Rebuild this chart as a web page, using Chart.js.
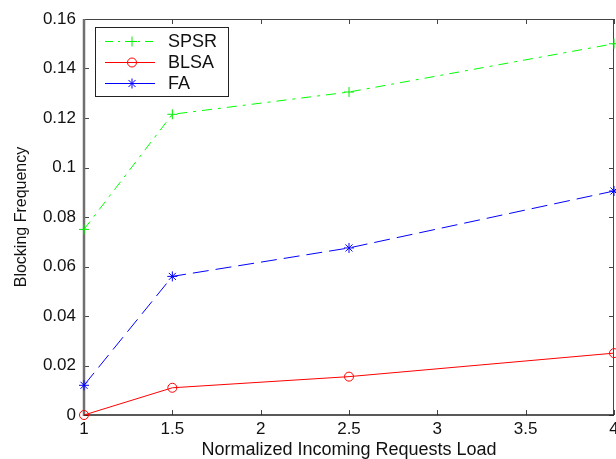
<!DOCTYPE html>
<html>
<head>
<meta charset="utf-8">
<script src="https://cdn.jsdelivr.net/npm/chart.js@4/dist/chart.umd.min.js"></script>
<style>
  html, body { margin: 0; padding: 0; background: #fff; }
  canvas { display: block; }
</style>
</head>
<body>
<canvas id="chart" width="616" height="459"></canvas>
<script>
(function () {
  "use strict";

  const loads = [1, 1.5, 2.5, 4];
  const spsrValues = [0.075, 0.1215, 0.1305, 0.150];
  const blsaValues = [0, 0.011, 0.0155, 0.025];
  const faValues = [0.012, 0.056, 0.0675, 0.0905];
  const seriesNames = ["SPSR", "BLSA", "FA"];
  const xTickLabels = ["1", "1.5", "2", "2.5", "3", "3.5", "4"];
  const yTickLabels = ["0", "0.02", "0.04", "0.06", "0.08", "0.1", "0.12", "0.14", "0.16"];

  const font = "'Liberation Sans', Arial, sans-serif";
  const textColor = "#111";

  const toPoints = (values) => values.map((v, i) => ({ x: loads[i], y: v }));

  // inward ticks + box, matlab style
  const framePlugin = {
    id: "frame",
    beforeDatasetsDraw(chart) {
      const { ctx, chartArea: a, scales: { x, y } } = chart;
      const seg = (x1, y1, x2, y2) => {
        ctx.beginPath();
        ctx.moveTo(x1, y1);
        ctx.lineTo(x2, y2);
        ctx.stroke();
      };
      ctx.save();
      ctx.strokeStyle = "#444";
      ctx.lineWidth = 1;
      x.ticks.forEach((t) => {
        const px = Math.round(x.getPixelForValue(t.value)) + 0.5;
        seg(px, a.bottom, px, a.bottom - 5);
        seg(px, a.top, px, a.top + 5);
      });
      y.ticks.forEach((t) => {
        const py = Math.round(y.getPixelForValue(t.value)) + 0.5;
        seg(a.left, py, a.left + 5, py);
        seg(a.right, py, a.right - 5, py);
      });
      seg(a.left, a.top + 0.5, a.right, a.top + 0.5);
      seg(a.right - 0.5, a.top, a.right - 0.5, a.bottom);
      ctx.strokeStyle = "#707070";
      ctx.lineWidth = 2.5;
      seg(a.left, a.top, a.left, a.bottom + 1);
      ctx.strokeStyle = "#222";
      ctx.lineWidth = 1.5;
      seg(a.left, a.bottom, a.right, a.bottom);
      ctx.restore();
    }
  };

  const drawMarker = (ctx, ds, cx, cy) => {
    if (Chart.helpers && Chart.helpers.drawPoint) {
      ctx.strokeStyle = ds.pointBorderColor;
      ctx.fillStyle = ds.pointBackgroundColor;
      ctx.lineWidth = ds.pointBorderWidth;
      Chart.helpers.drawPoint(ctx, {
        pointStyle: ds.pointStyle,
        radius: ds.pointRadius,
        rotation: 0,
        borderWidth: ds.pointBorderWidth
      }, cx, cy);
    }
  };

  const legendPlugin = {
    id: "boxLegend",
    afterDatasetsDraw(chart) {
      const { ctx } = chart;
      const box = { x: 95.5, y: 27.5, w: 133, h: 69 };
      ctx.save();
      ctx.fillStyle = "#fff";
      ctx.fillRect(box.x, box.y, box.w, box.h);
      ctx.strokeStyle = "#222";
      ctx.lineWidth = 1;
      ctx.strokeRect(box.x, box.y, box.w, box.h);
      chart.data.datasets.forEach((ds, i) => {
        const rowY = 41.5 + i * 21;
        ctx.strokeStyle = ds.borderColor;
        ctx.lineWidth = ds.borderWidth;
        ctx.setLineDash(ds.legendDash || []);
        ctx.beginPath();
        ctx.moveTo(105, rowY);
        ctx.lineTo(155, rowY);
        ctx.stroke();
        ctx.setLineDash([]);
        drawMarker(ctx, ds, 132, rowY);
        ctx.fillStyle = textColor;
        ctx.font = "18px " + font;
        ctx.textBaseline = "middle";
        ctx.textAlign = "left";
        ctx.fillText(ds.label, 168, rowY + 1);
      });
      ctx.restore();
    }
  };

  new Chart(document.getElementById("chart"), {
    type: "line",
    data: {
      datasets: [
        {
          label: seriesNames[0],
          data: toPoints(spsrValues),
          borderColor: "#00ff00",
          borderWidth: 1,
          borderDash: [10, 6, 3, 6],
          legendDash: [8, 5, 2, 5],
          pointStyle: "cross",
          pointRadius: 5,
          pointBorderWidth: 1,
          pointBorderColor: "#00ee00",
          pointBackgroundColor: "rgba(0,0,0,0)",
          tension: 0,
          clip: false
        },
        {
          label: seriesNames[1],
          data: toPoints(blsaValues),
          borderColor: "#ff0000",
          borderWidth: 1,
          borderDash: [],
          legendDash: [],
          pointStyle: "circle",
          pointRadius: 4.5,
          pointBorderWidth: 1,
          pointBorderColor: "#ff0000",
          pointBackgroundColor: "rgba(0,0,0,0)",
          tension: 0,
          clip: false
        },
        {
          label: seriesNames[2],
          data: toPoints(faValues),
          borderColor: "#0000ff",
          borderWidth: 1,
          borderDash: [16, 7],
          legendDash: [],
          pointStyle: "star",
          pointRadius: 5,
          pointBorderWidth: 1,
          pointBorderColor: "#0000ff",
          pointBackgroundColor: "rgba(0,0,0,0)",
          tension: 0,
          clip: false
        }
      ]
    },
    options: {
      responsive: false,
      animation: false,
      events: [],
      layout: { autoPadding: false, padding: { left: 0, right: 2, top: 19, bottom: 0 } },
      plugins: {
        legend: { display: false },
        tooltip: { enabled: false }
      },
      scales: {
        x: {
          type: "linear",
          min: 1,
          max: 4,
          grid: { display: false, drawTicks: false },
          border: { display: false },
          ticks: {
            stepSize: 0.5,
            padding: 4,
            maxRotation: 0,
            autoSkip: false,
            color: textColor,
            font: { family: font, size: 17 },
            callback: (v, i) => xTickLabels[i]
          },
          title: {
            display: true,
            text: "Normalized Incoming Requests Load",
            color: textColor,
            font: { family: font, size: 18, lineHeight: 1 },
            padding: { top: 0, bottom: 0 }
          },
          afterFit: (scale) => {
            scale.height = 44;
            scale.paddingLeft = 0;
            scale.paddingRight = 0;
          }
        },
        y: {
          min: 0,
          max: 0.16,
          grid: { display: false, drawTicks: false },
          border: { display: false },
          ticks: {
            stepSize: 0.02,
            padding: 8,
            autoSkip: false,
            color: textColor,
            font: { family: font, size: 17 },
            callback: (v, i) => yTickLabels[i]
          },
          title: {
            display: true,
            text: "Blocking Frequency",
            color: textColor,
            font: { family: font, size: 16, lineHeight: 1 },
            padding: { top: 14, bottom: 0 }
          },
          afterFit: (scale) => {
            scale.width = 84;
            scale.paddingTop = 0;
            scale.paddingBottom = 0;
          }
        }
      }
    },
    plugins: [framePlugin, legendPlugin]
  });
})();
</script>
</body>
</html>
